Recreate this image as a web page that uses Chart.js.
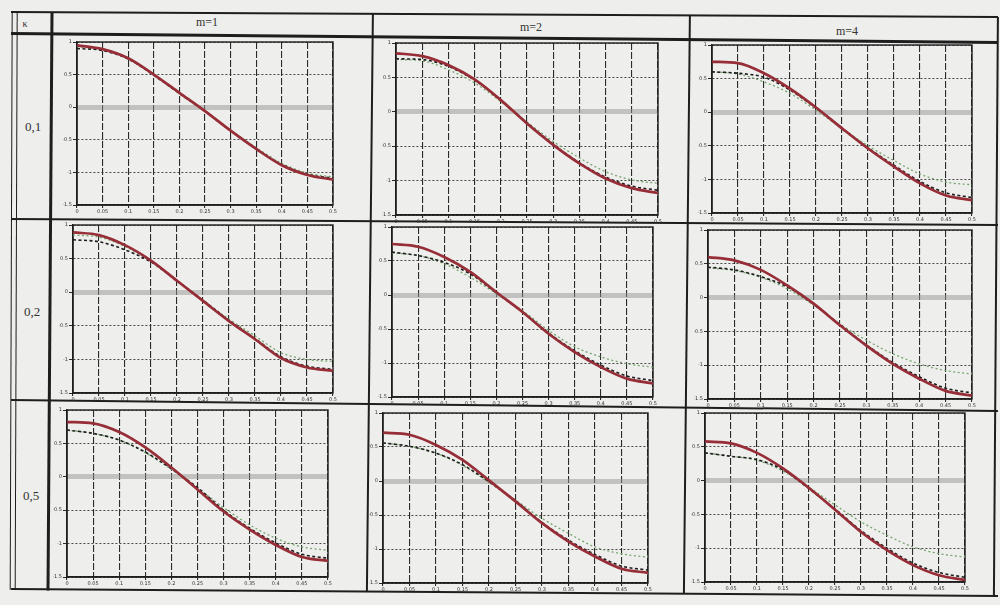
<!DOCTYPE html>
<html>
<head>
<meta charset="utf-8">
<script src="https://cdn.jsdelivr.net/npm/chart.js@4.4.1/dist/chart.umd.min.js"></script>
<style>
  html,body{margin:0;padding:0;background:#eeeeec;}
  #page{position:relative;width:1000px;height:605px;overflow:hidden;background:#eeeeec;}
  .ln{position:absolute;background:#1e1e1e;transform-origin:0 50%;}
  .tx{position:absolute;font-family:"Liberation Serif","DejaVu Serif",serif;color:#333;white-space:nowrap;transform:translate(-50%,-50%);}
  .wrap{position:absolute;}
</style>
</head>
<body>
<div id="page"></div>
<script>
// ---------------- data ----------------
const X_VALUES = [0, 0.05, 0.1, 0.15, 0.2, 0.25, 0.3, 0.35, 0.4, 0.45, 0.5];
const X_TICK_LABELS = ['0','0.05','0.1','0.15','0.2','0.25','0.3','0.35','0.4','0.45','0.5'];
const Y_TICK_VALUES = [-1.5, -1, -0.5, 0, 0.5, 1];
const Y_TICK_LABELS = ['-1.5','-1','-0.5','0','0.5','1'];
const KAPPA_LABELS = ['0,1','0,2','0,5'];
const M_LABELS = ['m=1','m=2','m=4'];

// kappa = 0.1
const red_k1_m1   = [0.95, 0.89, 0.75, 0.50, 0.22, -0.06, -0.36, -0.64, -0.89, -1.04, -1.11];
const black_k1_m1 = [0.90, 0.87, 0.74, 0.49, 0.21, -0.06, -0.36, -0.64, -0.88, -1.03, -1.09];
const green_k1_m1 = [0.93, 0.88, 0.75, 0.50, 0.22, -0.05, -0.35, -0.62, -0.86, -1.01, -1.07];
const red_k1_m2   = [0.85, 0.81, 0.68, 0.47, 0.17, -0.17, -0.48, -0.75, -0.97, -1.11, -1.18];
const black_k1_m2 = [0.77, 0.76, 0.66, 0.46, 0.17, -0.16, -0.47, -0.74, -0.95, -1.08, -1.14];
const green_k1_m2 = [0.76, 0.74, 0.61, 0.42, 0.15, -0.15, -0.43, -0.67, -0.87, -0.99, -1.04];
const red_k1_m4   = [0.75, 0.73, 0.58, 0.35, 0.07, -0.24, -0.54, -0.81, -1.06, -1.24, -1.31];
const black_k1_m4 = [0.60, 0.58, 0.52, 0.33, 0.06, -0.24, -0.53, -0.79, -1.03, -1.20, -1.27];
const green_k1_m4 = [0.60, 0.57, 0.45, 0.28, 0.03, -0.24, -0.50, -0.72, -0.92, -1.04, -1.08];
// kappa = 0.2
const red_k2_m1   = [0.89, 0.85, 0.70, 0.47, 0.17, -0.13, -0.43, -0.70, -0.98, -1.12, -1.17];
const black_k2_m1 = [0.78, 0.75, 0.63, 0.45, 0.17, -0.12, -0.42, -0.69, -0.96, -1.10, -1.15];
const green_k2_m1 = [0.85, 0.82, 0.68, 0.46, 0.17, -0.12, -0.40, -0.65, -0.90, -1.00, -1.03];
const red_k2_m2   = [0.75, 0.71, 0.56, 0.34, 0.04, -0.25, -0.57, -0.84, -1.06, -1.23, -1.30];
const black_k2_m2 = [0.63, 0.58, 0.48, 0.31, 0.03, -0.25, -0.56, -0.82, -1.03, -1.19, -1.26];
const green_k2_m2 = [0.62, 0.58, 0.46, 0.26, 0.02, -0.23, -0.52, -0.76, -0.91, -1.01, -1.06];
const red_k2_m4   = [0.60, 0.55, 0.41, 0.18, -0.09, -0.41, -0.71, -0.98, -1.20, -1.38, -1.45];
const black_k2_m4 = [0.45, 0.41, 0.31, 0.16, -0.10, -0.40, -0.70, -0.96, -1.17, -1.34, -1.41];
const green_k2_m4 = [0.44, 0.40, 0.30, 0.13, -0.11, -0.39, -0.63, -0.83, -0.98, -1.08, -1.13];
// kappa = 0.5
const red_k5_m1   = [0.82, 0.80, 0.67, 0.44, 0.14, -0.19, -0.52, -0.79, -1.02, -1.20, -1.26];
const black_k5_m1 = [0.70, 0.65, 0.55, 0.37, 0.12, -0.16, -0.50, -0.77, -0.99, -1.16, -1.22];
const green_k5_m1 = [0.70, 0.65, 0.55, 0.36, 0.11, -0.17, -0.46, -0.72, -0.92, -1.05, -1.10];
const red_k5_m2   = [0.71, 0.68, 0.53, 0.31, 0.01, -0.30, -0.62, -0.89, -1.11, -1.29, -1.35];
const black_k5_m2 = [0.56, 0.51, 0.41, 0.24, -0.01, -0.29, -0.61, -0.87, -1.08, -1.25, -1.31];
const green_k5_m2 = [0.56, 0.51, 0.41, 0.23, -0.02, -0.28, -0.55, -0.77, -0.97, -1.07, -1.12];
const red_k5_m4   = [0.58, 0.55, 0.41, 0.18, -0.11, -0.43, -0.76, -1.03, -1.25, -1.40, -1.47];
const black_k5_m4 = [0.41, 0.36, 0.31, 0.16, -0.12, -0.42, -0.74, -1.00, -1.22, -1.36, -1.43];
const green_k5_m4 = [0.41, 0.36, 0.30, 0.14, -0.10, -0.36, -0.61, -0.81, -0.98, -1.08, -1.13];

// ---------------- layout ----------------
const page = document.getElementById('page');
function line(x1, y1, x2, y2, w) {
  const d = document.createElement('div');
  d.className = 'ln';
  const dx = x2 - x1, dy = y2 - y1;
  d.style.left = x1 + 'px';
  d.style.top = (y1 - w / 2) + 'px';
  d.style.width = Math.hypot(dx, dy) + 'px';
  d.style.height = w + 'px';
  d.style.transform = 'rotate(' + Math.atan2(dy, dx) + 'rad)';
  page.appendChild(d);
}
function text(s, x, y, size) {
  const d = document.createElement('div');
  d.className = 'tx';
  d.textContent = s;
  d.style.left = x + 'px';
  d.style.top = y + 'px';
  d.style.fontSize = size + 'px';
  page.appendChild(d);
}

// table frame
line(11, 12, 998, 17, 1.5);
line(11, 33, 998, 42, 2.6);
line(11, 219, 998, 225, 2.2);
line(11, 400, 998, 411, 2.2);
line(11, 589, 998, 596, 2.4);
line(12, 12, 10, 590, 1.4);
line(17, 12, 15, 590, 1.4);
line(52, 12, 48, 590, 3);
line(373, 14, 367, 592, 1.8);
line(690, 15, 684, 594, 1.8);
line(998, 17, 994, 597, 1.8);

text('\u03BA', 25, 23, 10);
text(M_LABELS[0], 207, 22, 12);
text(M_LABELS[1], 531, 27, 12);
text(M_LABELS[2], 847, 31, 12);
text(KAPPA_LABELS[0], 33, 127, 13);
text(KAPPA_LABELS[1], 32, 312, 13);
text(KAPPA_LABELS[2], 31, 496, 13);

// plot areas [left, top, right, bottom]
const PANELS = [
  {rect: [77, 42, 333, 205],  red: red_k1_m1, black: black_k1_m1, green: green_k1_m1},
  {rect: [396, 43, 658, 215], red: red_k1_m2, black: black_k1_m2, green: green_k1_m2},
  {rect: [712, 45, 972, 213], red: red_k1_m4, black: black_k1_m4, green: green_k1_m4},
  {rect: [73, 225, 333, 393], red: red_k2_m1, black: black_k2_m1, green: green_k2_m1},
  {rect: [392, 227, 653, 397],red: red_k2_m2, black: black_k2_m2, green: green_k2_m2},
  {rect: [708, 230, 972, 399],red: red_k2_m4, black: black_k2_m4, green: green_k2_m4},
  {rect: [67, 410, 328, 577], red: red_k5_m1, black: black_k5_m1, green: green_k5_m1},
  {rect: [383, 413, 648, 583],red: red_k5_m2, black: black_k5_m2, green: green_k5_m2},
  {rect: [705, 413, 965, 582],red: red_k5_m4, black: black_k5_m4, green: green_k5_m4}
];

const YW = 14, XH = 10, PT = 4, PR = 6;

const framePlugin = {
  id: 'frame',
  beforeDatasetsDraw(chart) {
    const a = chart.chartArea, c = chart.ctx;
    c.save();
    c.strokeStyle = '#1e1e1e';
    c.lineWidth = 1.4;
    c.strokeRect(a.left, a.top, a.right - a.left, a.bottom - a.top);
    c.restore();
  }
};

function pts(arr) { return X_VALUES.map((x, i) => ({x: x, y: arr[i]})); }
const isZero = ctx => ctx.tick && ctx.tick.value === 0;

PANELS.forEach((p) => {
  const [L, T, R, B] = p.rect;
  const w = document.createElement('div');
  w.className = 'wrap';
  w.style.left = (L - YW) + 'px';
  w.style.top = (T - PT) + 'px';
  w.style.width = (R - L + YW + PR) + 'px';
  w.style.height = (B - T + PT + XH) + 'px';
  const cv = document.createElement('canvas');
  w.appendChild(cv);
  page.appendChild(w);

  new Chart(cv, {
    type: 'line',
    data: {
      datasets: [
        {data: pts(p.red), borderColor: '#962d37', borderWidth: 2.7, pointRadius: 0, cubicInterpolationMode: 'monotone', fill: false},
        {data: pts(p.black), borderColor: '#1c1c1c', borderWidth: 1.6, borderDash: [3, 2.5], pointRadius: 0, cubicInterpolationMode: 'monotone', fill: false},
        {data: pts(p.green), borderColor: '#74a46c', borderWidth: 1.3, borderDash: [2, 2.5], pointRadius: 0, cubicInterpolationMode: 'monotone', fill: false}
      ]
    },
    options: {
      responsive: true,
      maintainAspectRatio: false,
      animation: false,
      layout: {padding: {top: PT, right: PR, left: 0, bottom: 0}},
      plugins: {legend: {display: false}, tooltip: {enabled: false}},
      scales: {
        x: {
          type: 'linear', min: 0, max: 0.5,
          afterBuildTicks(s) { s.ticks = X_VALUES.map(v => ({value: v})); },
          afterFit(s) { s.height = XH; },
          ticks: {
            autoSkip: false, maxRotation: 0, padding: 1,
            font: {size: 5, family: 'DejaVu Sans'}, color: '#333',
            callback: (v, i) => X_TICK_LABELS[i]
          },
          grid: {color: '#2a2a2a', lineWidth: 1.1, tickLength: 3, tickColor: '#2a2a2a'},
          border: {display: true, color: '#1e1e1e', width: 1.4, dash: [7, 2]}
        },
        y: {
          type: 'linear', min: -1.5, max: 1,
          afterBuildTicks(s) { s.ticks = Y_TICK_VALUES.map(v => ({value: v})); },
          afterFit(s) { s.width = YW; },
          ticks: {
            padding: 1,
            font: {size: 5, family: 'DejaVu Sans'}, color: '#333',
            callback: (v, i) => Y_TICK_LABELS[i]
          },
          grid: {
            color: ctx => isZero(ctx) ? 'rgba(150,150,150,0.5)' : '#333',
            lineWidth: ctx => isZero(ctx) ? 5 : 0.9,
            tickLength: 4, tickColor: '#2a2a2a', tickWidth: 1
          },
          border: {display: true, color: '#1e1e1e', width: 1.4, dash: ctx => isZero(ctx) ? [] : [2, 2]}
        }
      }
    },
    plugins: [framePlugin]
  });
});
</script>
</body>
</html>
